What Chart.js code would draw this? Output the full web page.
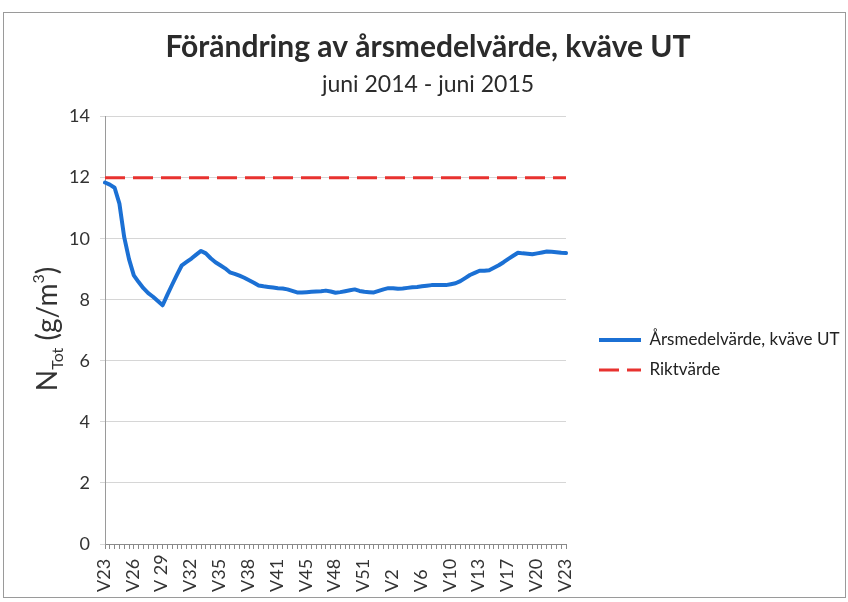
<!DOCTYPE html>
<html><head><meta charset="utf-8">
<script src="https://cdn.jsdelivr.net/npm/chart.js@4/dist/chart.umd.min.js"></script>
<style>html,body{margin:0;padding:0;background:#fff;}#wrap{width:848px;height:602px;position:relative;}</style>
</head><body><div id="wrap"><canvas id="c" width="848" height="602"></canvas></div>
<script>
const weeks = ['V23','V23','V24','V24','V25','V25','V26','V26','V27','V27','V28','V28','V 29','V29','V30','V30','V31','V31','V32','V32','V33','V33','V34','V34','V35','V35','V36','V36','V37','V37','V38','V38','V39','V39','V40','V40','V41','V41','V42','V43','V43','V44','V45','V45','V46','V46','V47','V47','V48','V48','V49','V49','V50','V50','V51','V51','V52','V52','V1','V1','V2','V3','V3','V4','V5','V5','V6','V7','V7','V8','V9','V9','V10','V10','V11','V11','V12','V12','V13','V14','V14','V15','V16','V16','V17','V17','V18','V18','V19','V19','V20','V20','V21','V21','V22','V22','V23'];
const arsmedel = [11.84,11.77,11.67,11.15,10.05,9.33,8.80,8.58,8.38,8.22,
 8.10,7.96,7.82,8.17,8.50,8.82,9.13,9.24,9.35,9.48,
 9.60,9.52,9.36,9.23,9.13,9.03,8.90,8.85,8.79,8.72,
 8.64,8.56,8.47,8.44,8.42,8.40,8.38,8.37,8.34,8.29,
 8.24,8.24,8.25,8.26,8.27,8.28,8.30,8.27,8.23,8.25,
 8.28,8.31,8.34,8.29,8.26,8.25,8.24,8.29,8.34,8.38,
 8.38,8.36,8.37,8.39,8.41,8.42,8.44,8.46,8.48,8.48,
 8.48,8.48,8.51,8.54,8.61,8.71,8.81,8.88,8.95,8.95,
 8.97,9.05,9.13,9.23,9.34,9.44,9.54,9.52,9.51,9.49,
 9.52,9.55,9.58,9.57,9.56,9.54,9.53];
const riktvarde = [12.0, 12.0]; // first and last week
const yTicks = [0,2,4,6,8,10,12,14];
const labelEvery = 6;

const FONT = 'Lato';
const LEGEND_W = 282;

const helper = {
  id:'helper',
  beforeLayout(chart){
    const lg = chart.legend;
    if (lg && !lg._patched){
      const f = lg.fit;
      lg.fit = function(){ f.call(this); this.width = LEGEND_W; };
      lg._patched = true;
    }
  },
  afterLayout(chart){
    const lg = chart.legend;
    if (lg){ lg.left += 20; lg.top += 54; lg.bottom += 54; }
  },
  beforeDraw(chart){
    const c = chart.ctx; c.save(); c.fillStyle='#fff'; c.fillRect(0,0,chart.width,chart.height); c.restore();
  },
  afterDraw(chart){
    const c = chart.ctx;
    const xs = chart.scales.x;
    c.save();
    c.font = '18px ' + FONT; c.fillStyle = '#333'; c.textAlign='left'; c.textBaseline='middle';
    xs.ticks.forEach((t,i)=>{
      if (i % labelEvery) return;
      const px = xs.getPixelForTick(i);
      c.save(); c.translate(px-1, 592); c.rotate(-Math.PI/2); c.fillText(weeks[i],0,0); c.restore();
    });
    c.restore();
    c.save();
    c.translate(47, 329); c.rotate(-Math.PI/2);
    c.fillStyle = '#333'; c.textBaseline='alphabetic'; c.textAlign='left';
    const big = '28px ' + FONT, small = '16px ' + FONT;
    const parts = [['N',big,0],['Tot',small,6],[' (g/m',big,0],['3',small,-13],[')',big,0]];
    let tw = 0;
    parts.forEach(p=>{ c.font=p[1]; tw += c.measureText(p[0]).width; });
    let x = -tw/2;
    parts.forEach(p=>{ c.font=p[1]; c.fillText(p[0], x, 10 + p[2]); x += c.measureText(p[0]).width; });
    c.restore();
    c.save(); c.strokeStyle='#9a9a9a'; c.lineWidth=1; c.strokeRect(3.5,12.5,842,585); c.restore();
  }
};

new Chart(document.getElementById('c').getContext('2d'), {
  type:'line',
  data:{
    labels: weeks,
    datasets:[
      {label:'Årsmedelvärde, kväve UT', data: arsmedel, borderColor:'#1b70d4', backgroundColor:'#1b70d4',
       borderWidth:4, pointRadius:0, tension:0, borderJoinStyle:'round', borderCapStyle:'round', order:1},
      {label:'Riktvärde', xAxisID:'x2', data:[{x:0,y:riktvarde[0]},{x:weeks.length-1,y:riktvarde[1]}],
       borderColor:'#e8322f', backgroundColor:'#e8322f', borderWidth:3, borderDash:[20,8], pointRadius:0, order:2}
    ]
  },
  options:{
    responsive:false, animation:false, devicePixelRatio:1,
    layout:{padding:{left:8,right:0,top:0,bottom:0}},
    plugins:{
      tooltip:{enabled:false},
      legend:{display:true, position:'right', align:'center',
        labels:{usePointStyle:true, pointStyle:'line', pointStyleWidth:42, padding:13,
          font:{family:FONT,size:17}, color:'#222',
          generateLabels(chart){
            const items = Chart.defaults.plugins.legend.labels.generateLabels(chart);
            items.forEach(it=>{
              const ds = chart.data.datasets[it.datasetIndex];
              it.lineDash = ds.borderDash || [];
              it.lineWidth = ds.borderWidth;
              it.strokeStyle = ds.borderColor;
              it.lineCap = 'butt';
            });
            return items;
          }}},
      title:{display:true, text:'Förändring av årsmedelvärde, kväve UT', color:'#2b2b2b',
        font:{family:FONT,size:30,weight:'bold'}, padding:{top:29,bottom:0}},
      subtitle:{display:true, text:'juni 2014 - juni 2015', color:'#2b2b2b',
        font:{family:FONT,size:23}, padding:{top:6,bottom:18}}
    },
    scales:{
      x:{offset:false,
        grid:{drawOnChartArea:false, tickLength:5, color:'#8a8a8a'},
        border:{color:'#8a8a8a'},
        ticks:{autoSkip:false, maxRotation:90, minRotation:90, color:'rgba(0,0,0,0)', font:{family:FONT,size:15}},
        afterFit(s){ s.height = 58; }},
      x2:{type:'linear', display:false, min:0, max:weeks.length-1, offset:false},
      y:{min:0, max:14,
        afterBuildTicks(s){ s.ticks = yTicks.map(v=>({value:v})); },
        ticks:{color:'#333', font:{family:FONT,size:18}, padding:10},
        grid:{color:'#d6d6d6', tickLength:5},
        border:{color:'#9a9a9a'},
        afterFit(s){ s.width = 97; }}
    }
  },
  plugins:[helper]
});
</script></body></html>
